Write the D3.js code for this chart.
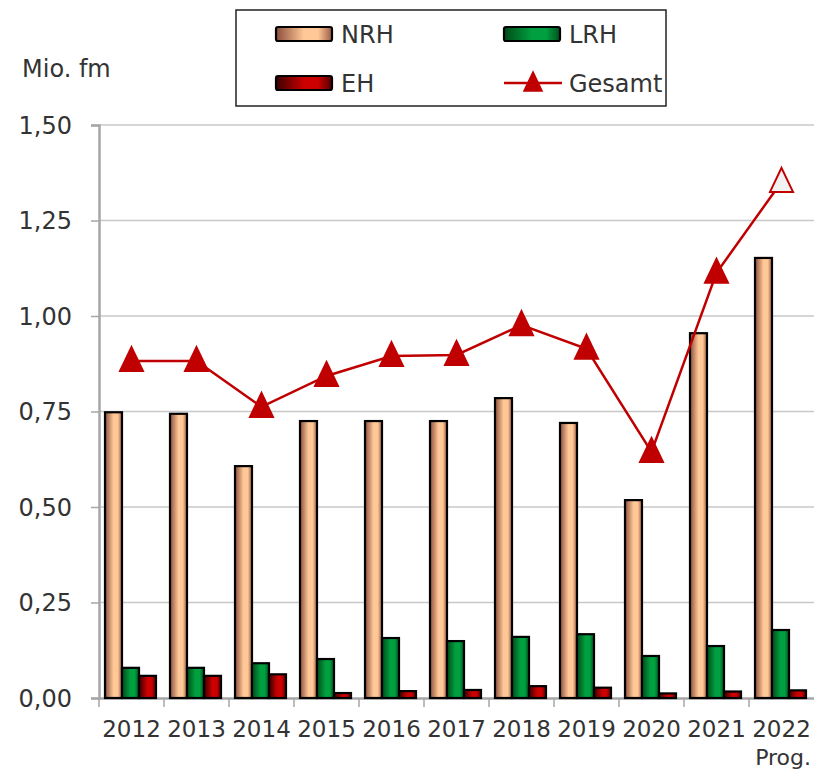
<!DOCTYPE html>
<html>
<head>
<meta charset="utf-8">
<script src="https://cdn.jsdelivr.net/npm/d3@7"></script>
<style>
  body { margin: 0; background: #fff; }
  svg text { font-family: "DejaVu Sans", Verdana, sans-serif; fill: #333; }
</style>
</head>
<body>
<svg width="814" height="770"></svg>
<script>
// chart values
const years = ["2012","2013","2014","2015","2016","2017","2018","2019","2020","2021","2022"];
const nrh = [0.748, 0.744, 0.607, 0.725, 0.725, 0.725, 0.785, 0.720, 0.518, 0.955, 1.152];
const lrh = [0.079, 0.079, 0.091, 0.102, 0.157, 0.149, 0.160, 0.167, 0.110, 0.136, 0.178];
const eh  = [0.058, 0.058, 0.062, 0.013, 0.018, 0.021, 0.031, 0.027, 0.012, 0.017, 0.020];
const gesamt = [0.882, 0.882, 0.762, 0.843, 0.895, 0.898, 0.976, 0.914, 0.644, 1.113, 1.351];
const yTicks = [0, 0.25, 0.5, 0.75, 1.0, 1.25, 1.5];
const seriesNames = ["NRH", "LRH", "EH"];

let svg = d3.select("svg");
const pLeft = 99, pRight = 814, pTop = 125, pBottom = 698;

let x = d3.scaleBand().domain(years).range([pLeft, pRight]).paddingInner(0).paddingOuter(0);
let xs = d3.scaleBand().domain(seriesNames).range([6, 57]);
let y = d3.scaleLinear().domain([0, 1.5]).range([pBottom, pTop]);
let fmt = v => d3.format(".2f")(v).replace(".", ",");

// taller-than-wide triangle marker, like the original
let triType = {
	draw(ctx, size) {
		let k = Math.sqrt(size / 240);
		ctx.moveTo(0, -14 * k);
		ctx.lineTo(11.5 * k, 10 * k);
		ctx.lineTo(-11.5 * k, 10 * k);
		ctx.closePath();
	}
};

// gradients
let defs = svg.append("defs");
const grads = {
	NRH: ["#8a4e3c", "#ffc896", "#ffc896", "#9a5a44"],
	LRH: ["#004a18", "#00a040", "#00a040", "#00501c"],
	EH:  ["#3a0000", "#cc0000", "#cc0000", "#500000"]
};
Object.keys(grads).forEach(k => {
	let g = defs.append("linearGradient").attr("id", "g" + k)
		.attr("x1", "0").attr("x2", "1").attr("y1", "0").attr("y2", "0");
	[0, 0.5, 0.75, 1].forEach((o, i) => g.append("stop").attr("offset", o).attr("stop-color", grads[k][i]));
});

// gridlines
let ggrid = svg.append("g").attr("class", "grid");
ggrid.selectAll("line").data(yTicks.filter(d => d > 0)).enter().append("line")
	.attr("x1", pLeft).attr("x2", pRight)
	.attr("y1", d => y(d)).attr("y2", d => y(d))
	.attr("stroke", "#c8c8c8").attr("stroke-width", 1.3);

// axes
let yAxis = svg.append("g").attr("transform", `translate(${pLeft},0)`)
	.call(d3.axisLeft(y).tickValues(yTicks).tickFormat(fmt).tickSize(8).tickPadding(19));
yAxis.select(".domain").attr("stroke", "#a6a6a6").attr("stroke-width", 2.5);
yAxis.selectAll(".tick line").attr("stroke", "#a6a6a6").attr("stroke-width", 1.5);
yAxis.selectAll(".tick text").style("font-size", "24px").attr("fill", "#333").attr("dy", "0.35em");

let xAxis = svg.append("g").attr("transform", `translate(0,${pBottom})`)
	.call(d3.axisBottom(x).tickSize(0).tickPadding(23));
xAxis.select(".domain").attr("stroke", "#a6a6a6").attr("stroke-width", 2.5);
xAxis.selectAll(".tick text").style("font-size", "23px").attr("fill", "#333");
// tick marks at band boundaries
xAxis.selectAll("line.bound").data(years).enter().append("line").attr("class", "bound")
	.attr("x1", d => x(d)).attr("x2", d => x(d)).attr("y1", 0).attr("y2", 9)
	.attr("stroke", "#a6a6a6").attr("stroke-width", 1.5);

svg.append("text").attr("x", 811).attr("y", 765).attr("text-anchor", "end")
	.style("font-size", "22px").text("Prog.");
svg.append("text").attr("x", 22).attr("y", 77).style("font-size", "24px").text("Mio. fm");

// bars
let series = [nrh, lrh, eh];
let gbars = svg.append("g").attr("class", "bars");
seriesNames.forEach((s, si) => {
	gbars.selectAll("rect.b" + s).data(series[si]).enter().append("rect")
		.attr("class", "b" + s)
		.attr("x", (d, i) => x(years[i]) + xs(s))
		.attr("width", xs.bandwidth())
		.attr("y", d => y(d))
		.attr("height", d => y(0) - y(d))
		.attr("fill", `url(#g${s})`)
		.attr("stroke", "#000").attr("stroke-width", 2.2);
});

// Gesamt line
let cx = i => x(years[i]) + x.bandwidth() / 2;
let line = d3.line().x((d, i) => cx(i)).y(d => y(d));
svg.append("path").datum(gesamt).attr("d", line)
	.attr("fill", "none").attr("stroke", "#c00000").attr("stroke-width", 2.5);
let tri = d3.symbol().type(triType).size(240);
svg.append("g").selectAll("path").data(gesamt).enter().append("path")
	.attr("d", tri)
	.attr("transform", (d, i) => `translate(${cx(i)},${y(d)})`)
	.attr("fill", (d, i) => i === gesamt.length - 1 ? "#f2f2f2" : "#c00000")
	.attr("stroke", "#c00000").attr("stroke-width", 2);

// legend
let leg = svg.append("g").attr("class", "legend");
leg.append("rect").attr("x", 236).attr("y", 10).attr("width", 430).attr("height", 96)
	.attr("fill", "#fff").attr("stroke", "#222").attr("stroke-width", 1.5);
const legItems = [
	{ name: "NRH", lx: 276, ly: 34 },
	{ name: "LRH", lx: 504, ly: 34 },
	{ name: "EH", lx: 276, ly: 83 },
	{ name: "Gesamt", lx: 504, ly: 83 }
];
legItems.forEach(d => {
	if (d.name === "Gesamt") {
		leg.append("line").attr("x1", d.lx).attr("x2", d.lx + 58).attr("y1", d.ly).attr("y2", d.ly)
			.attr("stroke", "#c00000").attr("stroke-width", 2.5);
		leg.append("path").attr("d", d3.symbol().type(triType).size(150))
			.attr("transform", `translate(${d.lx + 29},${d.ly})`)
			.attr("fill", "#c00000").attr("stroke", "#c00000").attr("stroke-width", 1.5);
	} else {
		leg.append("rect").attr("x", d.lx).attr("y", d.ly - 7).attr("width", 56).attr("height", 14)
			.attr("rx", 2).attr("fill", `url(#g${d.name})`).attr("stroke", "#000").attr("stroke-width", 2.2);
	}
	leg.append("text").attr("x", d.lx + 65).attr("y", d.ly).attr("dy", "0.36em")
		.style("font-size", "24px").text(d.name);
});
</script>
</body>
</html>
